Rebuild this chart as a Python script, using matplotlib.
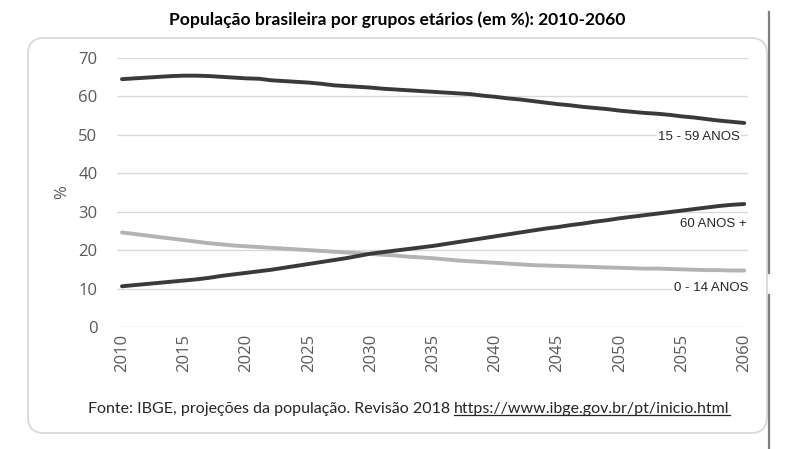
import numpy as np
import matplotlib.pyplot as plt
from matplotlib.patches import FancyBboxPatch
from matplotlib.lines import Line2D
from matplotlib.transforms import IdentityTransform

years = np.arange(2010, 2061)

adultos = [64.5, 64.7, 64.9, 65.1, 65.3, 65.4, 65.4, 65.3, 65.1, 64.9,
           64.7, 64.6, 64.2, 64.0, 63.8, 63.6, 63.3, 62.9, 62.7, 62.5,
           62.3, 62.0, 61.8, 61.6, 61.4, 61.2, 61.0, 60.8, 60.6, 60.2,
           59.9, 59.5, 59.2, 58.8, 58.4, 58.0, 57.7, 57.3, 57.0, 56.7,
           56.3, 56.0, 55.7, 55.5, 55.2, 54.8, 54.5, 54.1, 53.7, 53.4, 53.1]

idosos = [10.6, 10.9, 11.2, 11.5, 11.8, 12.1, 12.4, 12.8, 13.3, 13.7,
          14.1, 14.5, 14.9, 15.4, 15.9, 16.4, 16.9, 17.4, 17.9, 18.5,
          19.1, 19.5, 19.9, 20.3, 20.7, 21.1, 21.6, 22.1, 22.6, 23.1,
          23.6, 24.1, 24.6, 25.1, 25.6, 26.0, 26.5, 26.9, 27.4, 27.8,
          28.3, 28.7, 29.1, 29.5, 29.9, 30.3, 30.7, 31.1, 31.5, 31.8, 32.0]

jovens = [24.6, 24.2, 23.8, 23.4, 23.0, 22.6, 22.2, 21.8, 21.5, 21.2,
          21.0, 20.8, 20.6, 20.4, 20.2, 20.0, 19.8, 19.6, 19.4, 19.2,
          19.0, 18.8, 18.6, 18.3, 18.1, 17.9, 17.6, 17.3, 17.1, 16.9,
          16.7, 16.5, 16.3, 16.1, 16.0, 15.9, 15.8, 15.7, 15.6, 15.5,
          15.4, 15.3, 15.2, 15.2, 15.1, 15.0, 14.9, 14.8, 14.8, 14.7, 14.7]

xticks = np.arange(2010, 2061, 5)
yticks = np.arange(0, 71, 10)

W, H = 793, 449
fig = plt.figure(figsize=(W / 100, H / 100), dpi=100)

# rounded frame around the chart (pixel coords), behind the axes
box = FancyBboxPatch((28, H - 433), 739, 395,
                     boxstyle="round,pad=0,rounding_size=16",
                     transform=IdentityTransform(),
                     facecolor="white", edgecolor="#d9d9d9", lw=1.3, zorder=-5)
fig.patches.append(box)
box.set_figure(fig)

# dark vertical rule on the right, with a gap
for y0, y1 in [(12, 273), (295, 449)]:
    fig.add_artist(Line2D([769, 769], [H - y0, H - y1], transform=IdentityTransform(),
                          color="#7f7f7f", lw=1.6))

ax = fig.add_axes([117 / W, 1 - 327 / H, 631 / W, 269 / H])
ax.set_facecolor("none")
ax.set_zorder(1)

ax.plot(years, jovens, color="#b3b3b3", lw=2.8, solid_capstyle="round")
ax.plot(years, idosos, color="#3a3a3a", lw=2.8, solid_capstyle="round")
ax.plot(years, adultos, color="#3a3a3a", lw=2.8, solid_capstyle="round")

ax.set_xlim(2009.6, 2060.3)
ax.set_ylim(0, 70)
ax.set_yticks(yticks)
ax.set_xticks(xticks)
ax.grid(axis="y", color="#d9d9d9", lw=1)
ax.set_axisbelow(True)
for s in ax.spines.values():
    s.set_visible(False)
ax.tick_params(length=0, colors="#595959")
ax.tick_params(axis="y", pad=14)
ax.tick_params(axis="x", pad=5)
for t in ax.get_yticklabels():
    t.set_fontfamily("Open Sans")
    t.set_fontsize(12)
for t in ax.get_xticklabels():
    t.set_fontfamily("Open Sans")
    t.set_fontsize(12)
    t.set_rotation(90)

ax.set_ylabel("%", family="Open Sans", fontsize=12, color="#595959", labelpad=6)

lab = dict(family="Liberation Sans", fontsize=9.5, color="#262626", ha="right", va="center",
           transform=IdentityTransform(), zorder=5)
fig.text(740, H - 137, "15 - 59 ANOS", bbox=dict(fc="white", ec="none", pad=1), **lab)
fig.text(747, H - 224, "60 ANOS +", **lab)
fig.text(748, H - 288, "0 - 14 ANOS", bbox=dict(fc="white", ec="none", pad=1), **lab)

fig.text(397 / W, 1 - 20 / H, "População brasileira por grupos etários (em %): 2010-2060",
         family="Lato", fontweight="bold", fontsize=12.6, ha="center", va="center")

src = fig.text(88 / W, 1 - 409 / H, "Fonte: IBGE, projeções da população. Revisão 2018 ",
               family="Lato", fontsize=11.5, color="#262626", ha="left", va="center")
fig.canvas.draw()
bb = src.get_window_extent()
url = fig.text(0, 0, "https://www.ibge.gov.br/pt/inicio.html",
               family="Lato", fontsize=11.5, color="#262626", ha="left", va="center")
url.set_transform(IdentityTransform())
url.set_position((bb.x1, H - 409))
fig.canvas.draw()
ub = url.get_window_extent()
fig.add_artist(Line2D([ub.x0, ub.x1], [ub.y0 + 1, ub.y0 + 1], transform=IdentityTransform(),
                      color="#262626", lw=0.9))

fig.savefig("out.png", dpi=100)
